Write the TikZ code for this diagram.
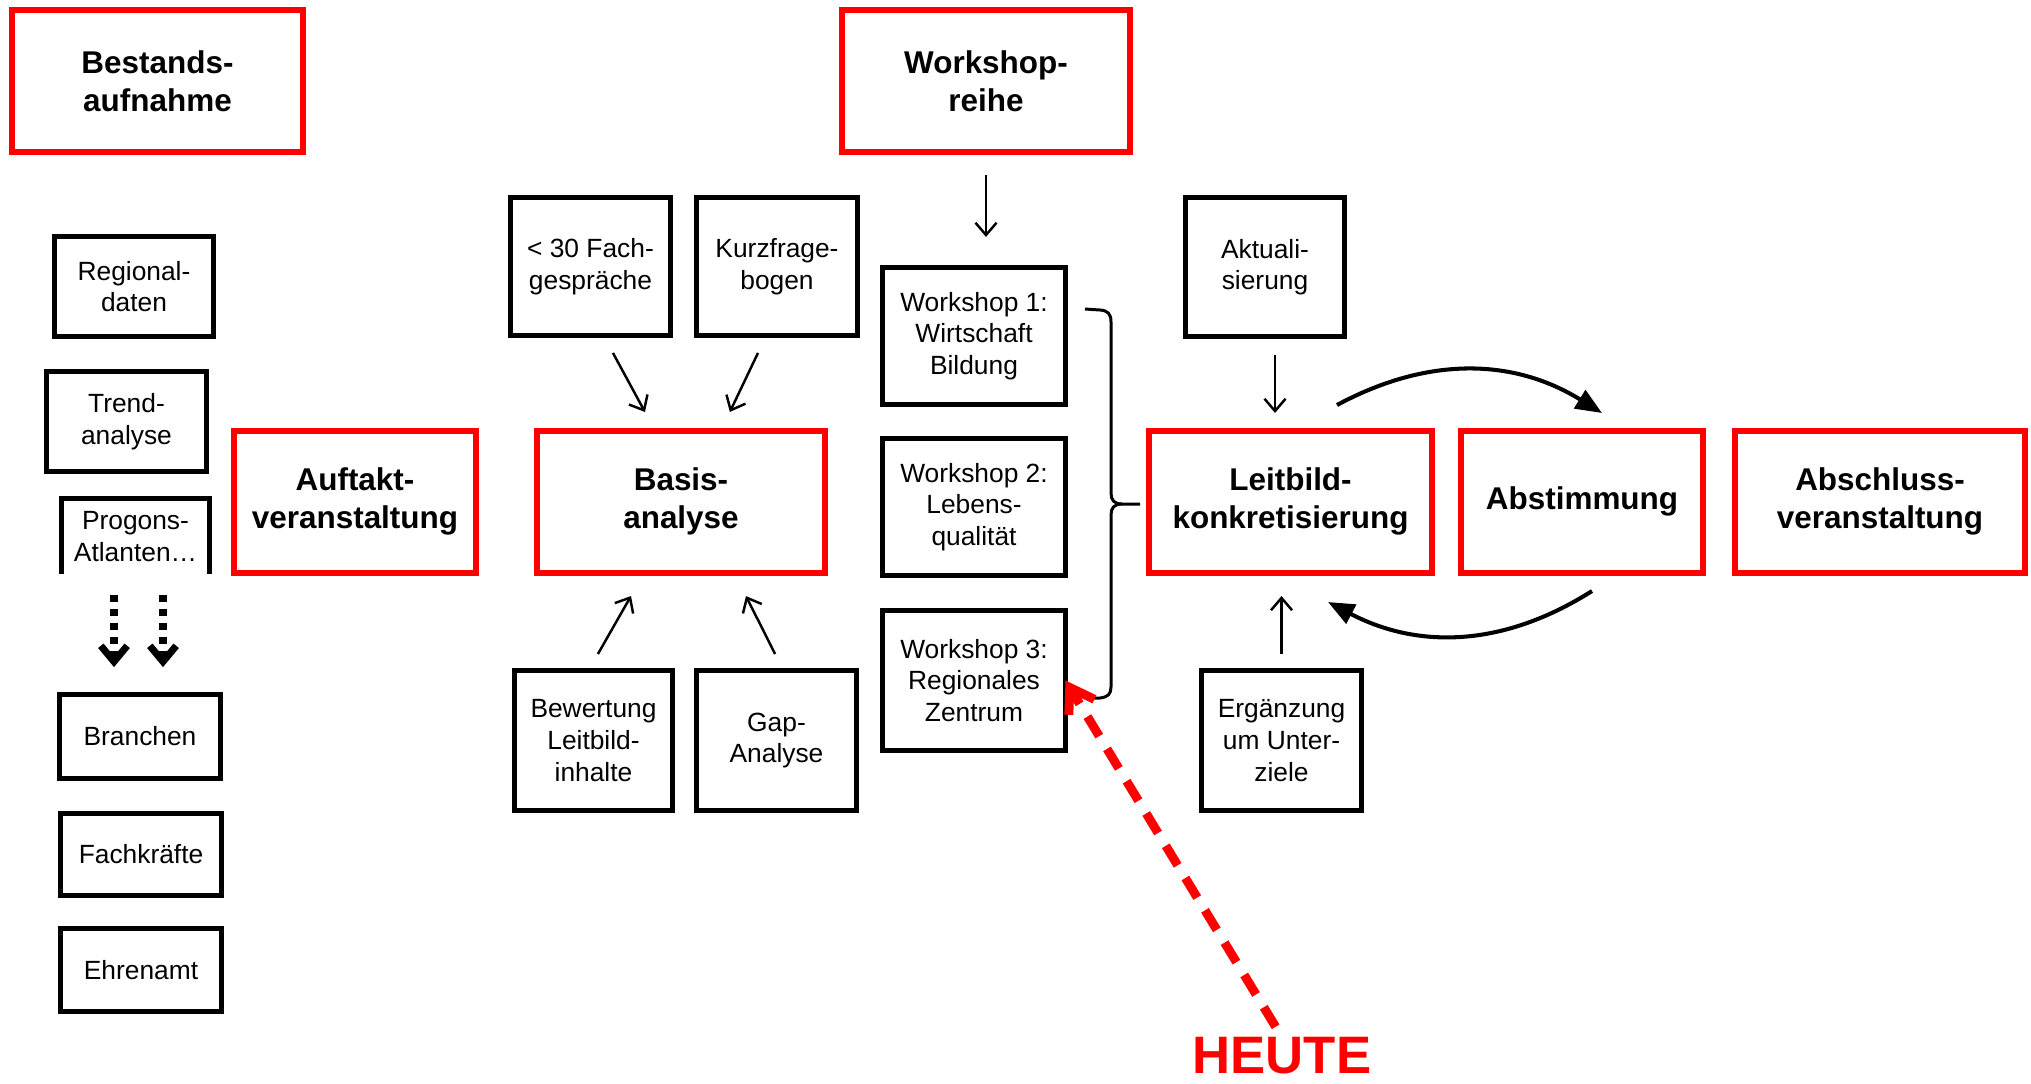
\documentclass[tikz,border=0pt]{standalone}
\usepackage{fontspec}
\setmainfont{Liberation Sans}
\usetikzlibrary{arrows.meta}
\newcommand\pxu{0.02cm}

\begin{document}
\begin{tikzpicture}[x=0.02cm,y=-0.02cm,
    boxsize/.style 2 args={minimum width=#1*\pxu,minimum height=#2*\pxu},
    redbox/.style={draw=red,line width=3.4pt,inner sep=0pt,outer sep=0pt,align=center,
      font=\fontsize{17.9}{21.5}\selectfont\bfseries},
    blackbox/.style={draw,line width=2.85pt,inner sep=0pt,outer sep=0pt,align=center,
      font=\fontsize{15}{18}\selectfont},
    arr/.style={line width=1.4pt,-{Straight Barb[length=7pt,width=12pt]}},
    cyclearr/.style={line width=2.3pt,-{Triangle[length=15pt,width=12pt]}},
    dotarr/.style={line width=4pt,dash pattern=on 4pt off 4pt,-{Straight Barb[length=9pt,width=15pt]}},
    bracket/.style={line width=1.7pt},
    heutearr/.style={draw=red,line width=5.1pt,dash pattern=on 13pt off 8.5pt,
      -{Straight Barb[length=13pt,width=17pt]}}]
  \useasboundingbox (0,0) rectangle (2031,1083);

  % Phasen
  \node[redbox,boxsize={291}{142}] (bestand) at (157.5,81) {Bestands-\\aufnahme};
  \node[redbox,boxsize={288}{142}] (wsreihe) at (986,81) {Workshop-\\reihe};
  \node[redbox,boxsize={242}{142}] (auftakt) at (355,501.5) {Auftakt-\\veranstaltung};
  \node[redbox,boxsize={288}{142}] (basis) at (681,501.5) {Basis-\\analyse};
  \node[redbox,boxsize={283}{142}] (leitbild) at (1290.5,501.5) {Leitbild-\\konkretisierung};
  \node[redbox,boxsize={242}{142}] (abstimmung) at (1582,501.5) {Abstimmung};
  \node[redbox,boxsize={290}{142}] (abschluss) at (1880,501.5) {Abschluss-\\veranstaltung};

  % Bestandsaufnahme
  \node[blackbox,boxsize={159}{100}] (regional) at (134,286.5) {Regional-\\daten};
  \node[blackbox,boxsize={160}{100}] (trend) at (126.5,421.5) {Trend-\\analyse};
  \node[blackbox,draw=none,boxsize={148}{75.5}] (progons) at (135.5,536.25) {Progons-\\Atlanten…};
  \draw[line width=2.85pt] (progons.south west) -- (progons.north west) -- (progons.north east) -- (progons.south east);
  \foreach \nm/\txt/\xx/\yy/\hh in {branchen/Branchen/140/736.5/84,
      fachkraefte/Fachkräfte/141/854.5/82, ehrenamt/Ehrenamt/141/970/83}
    \node[blackbox,boxsize={161}{\hh}] (\nm) at (\xx,\yy) {\txt};
  \foreach \dx in {-21.5,27.5}
    \draw[dotarr,shorten <=12pt,shorten >=15.6pt] ([xshift=\dx*\pxu]progons.south)
      -- ([xshift=\dx*\pxu]progons.south |- branchen.north);

  % Basisanalyse
  \node[blackbox,boxsize={160}{138}] (fach30) at (590.5,266.5) {< 30 Fach-\\gespräche};
  \node[blackbox,boxsize={161}{138}] (kurz) at (777,266.5) {Kurzfrage-\\bogen};
  \node[blackbox,boxsize={158}{140}] (bewertung) at (593.5,740.5) {Bewertung\\Leitbild-\\inhalte};
  \node[blackbox,boxsize={160}{140}] (gap) at (776.5,740.5) {Gap-\\Analyse};
  \draw[arr,shorten <=11.3pt,shorten >=12pt] ([xshift=13*\pxu]fach30.south) -- ([xshift=-26*\pxu]basis.north);
  \draw[arr,shorten <=11pt,shorten >=11.7pt] ([xshift=-10.7*\pxu]kurz.south) -- ([xshift=40*\pxu]basis.north);
  \draw[arr,shorten <=10.8pt,shorten >=15.4pt] ([xshift=-5*\pxu]bewertung.north) -- ([xshift=-36.6*\pxu]basis.south);
  \draw[arr,shorten <=10.5pt,shorten >=15pt] ([xshift=6.8*\pxu]gap.north) -- ([xshift=53.2*\pxu]basis.south);

  % Workshops
  \node[blackbox,boxsize={183}{137}] (ws1) at (974,336) {Workshop 1:\\Wirtschaft\\Bildung};
  \node[blackbox,boxsize={183}{137}] (ws2) at (974,507) {Workshop 2:\\Lebens-\\qualität};
  \node[blackbox,boxsize={183}{140}] (ws3) at (974,680.5) {Workshop 3:\\Regionales\\Zentrum};
  \draw[arr,shorten <=13.1pt,shorten >=17.4pt] (wsreihe.south) -- (wsreihe.south |- ws1.north);
  \draw[bracket] (1085,309) -- (1100,310) .. controls (1108,310.5) and (1111,314) .. (1111,322)
    -- (1111,493) .. controls (1111,500) and (1114,504) .. (1122,504) -- (1140,504);
  \draw[bracket] (1122,504) .. controls (1114,504) and (1111,508) .. (1111,515)
    -- (1111,687) .. controls (1111,694) and (1108,697) .. (1100,698) -- (1092,698);

  % Leitbild
  \node[blackbox,boxsize={159}{139}] (aktual) at (1265,267) {Aktuali-\\sierung};
  \node[blackbox,boxsize={160}{140}] (ergaenz) at (1281.5,740.5) {Ergänzung\\um Unter-\\ziele};
  \draw[arr,shorten <=10.5pt,shorten >=10pt] ([xshift=10*\pxu]aktual.south) -- ([xshift=10*\pxu]aktual.south |- leitbild.north);
  \draw[arr,shorten <=9.4pt,shorten >=13.4pt] (ergaenz.north) -- (ergaenz.north |- leitbild.south);
  \draw[cyclearr] ([shift={(46.5,-25.5)}]leitbild.north) to[bend left=30] ([shift={(20,-17.5)}]abstimmung.north);
  \draw[cyclearr] ([shift={(10,18.5)}]abstimmung.south) to[bend left=30] ([shift={(37.5,29.5)}]leitbild.south);

  % heute
  \node[text=red,inner sep=0pt,font=\fontsize{30}{32}\selectfont\bfseries] (heute) at (1282,1056) {HEUTE};
  \draw[heutearr,shorten <=7pt] (heute.north) -- (ws3.east);
\end{tikzpicture}
\end{document}
